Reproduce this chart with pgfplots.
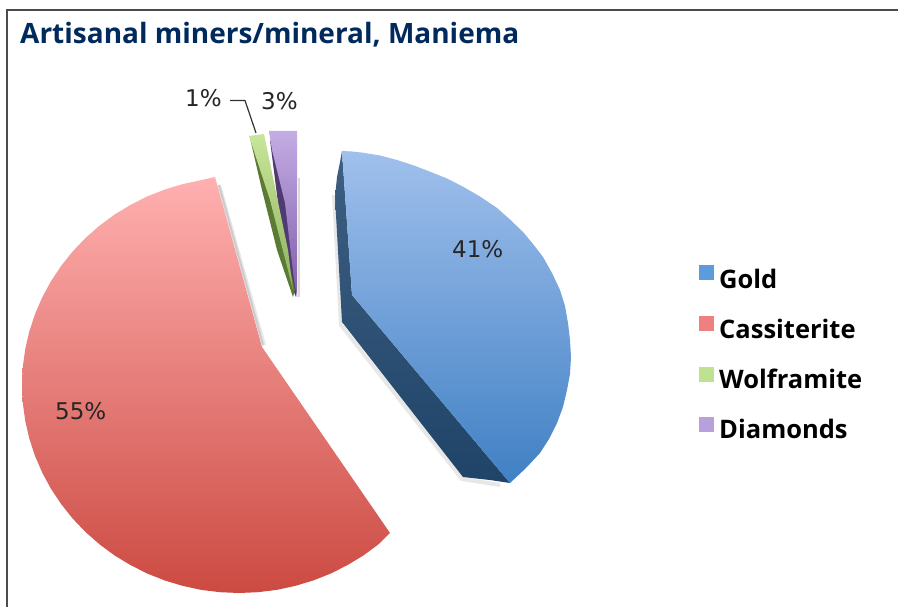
\documentclass[border=0pt]{standalone}
\usepackage{pgfplots}
\pgfplotsset{compat=1.18}
\usepackage{fontspec}
\setmainfont{DejaVu Sans}
\newfontfamily\titlefont{Open Sans}
\newfontfamily\legfont{Open Sans}
\definecolor{titleblue}{HTML}{002A5C}
\definecolor{goldsidetop}{HTML}{3E5F82}
\definecolor{goldsidebot}{HTML}{1F4468}
\definecolor{goldtop}{HTML}{A0C0EC}
\definecolor{goldbot}{HTML}{4080C4}
\definecolor{redtop}{HTML}{FFB0B0}
\definecolor{redmid}{HTML}{F08686}
\definecolor{redbot}{HTML}{CC4A42}
\definecolor{dimdark}{HTML}{4F3A72}
\definecolor{dimtop}{HTML}{C4ACE4}
\definecolor{dimbot}{HTML}{7E5CA8}
\definecolor{wolfdark}{HTML}{5B7A34}
\definecolor{wolftop}{HTML}{C8E69A}
\definecolor{wolfbot}{HTML}{8FB060}
\definecolor{leggold}{HTML}{5C9BDC}
\definecolor{legred}{HTML}{EE8080}
\definecolor{leggreen}{HTML}{BFE290}
\definecolor{legpurple}{HTML}{B8A0DC}
\begin{document}
\begin{tikzpicture}
\begin{axis}[
  scale only axis, width=898pt, height=607pt,
  xmin=0, xmax=898, ymin=0, ymax=607, y dir=reverse,
  hide axis, clip=true,
]
% page background
\addplot[fill=white, draw=none] coordinates {(0,0) (898,0) (898,607) (0,607)} --cycle;
% frame
\addplot[draw=black!70, line width=2pt] coordinates {(7,607) (7,10) (898,10)};
% soft edge shadows
\addplot[draw=black!30, line width=4pt, opacity=.3] coordinates {(219,185) (264,345)};
\addplot[draw=black!30, line width=2pt, opacity=.5] coordinates {(219,185) (263,345)};
\addplot[draw=black!30, line width=4pt, opacity=.3] coordinates {(334,195) (341,325) (462,479) (500,485)};
% Gold side
\addplot[draw=none, shade, top color=goldsidetop, bottom color=goldsidebot] coordinates {
 (342,151) (340,162) (337,177) (335,197) (342,322) (463,477) (490,480) (510,483) (352,295)} --cycle;
% Gold top
\addplot[draw=none, shade, top color=goldtop, bottom color=goldbot] coordinates {
 (342,151) (352,151.5) (363,152.7) (380,155.5) (397,160) (414,165.5) (430,171.7) (447,178.5)
 (463,186.7) (480,196.5) (497,208) (510,219.5) (523,232) (533,244) (543,257) (552,273)
 (560,290) (565,306) (568,323) (570,340) (571,357) (570,374) (567,390) (563,407) (557,423)
 (549,439) (540,453) (526,468) (510,483) (352,295)} --cycle;
% Cassiterite
\addplot[draw=none, shade, top color=redtop, middle color=redmid, bottom color=redbot] coordinates {
 (215,177) (201.3,180.1) (182.8,184.1) (164.8,189.5) (147.2,196.5) (130.5,204.9) (114.5,214.6)
 (99.5,225.7) (85.6,237.9) (72.8,251.3) (61.3,265.7) (51.1,281) (42.4,297) (35.1,313.9)
 (29.4,331.1) (25.3,348.8) (22.8,366.9) (22,385) (22.8,403.1) (25.3,421.2) (29.4,438.9)
 (35.1,456.1) (42.4,473) (51.1,489) (61.3,504.3) (72.8,518.7) (85.6,532.1) (99.5,544.3)
 (114.5,555.4) (130.5,565.1) (147.2,573.5) (164.8,580.5) (182.8,585.9) (201.3,589.9)
 (220.1,592.2) (239,593) (257.9,592.2) (276.7,589.9) (295.2,585.9) (313.2,580.5) (330.8,573.5)
 (347.5,565.1) (363.5,555.4) (378.5,544.3) (390,533) (262,347)} --cycle;
% Diamonds
\addplot[draw=black!15, line width=2pt] coordinates {(298.5,178) (298.5,297)};
\addplot[draw=none, fill=dimdark] coordinates {(270,140) (278,203) (291,285) (296,297) (296,200)} --cycle;
\addplot[draw=none, shade, top color=dimtop, bottom color=dimbot] coordinates {
 (269,131) (297,131) (297,297) (294,280) (285,203) (272,150)} --cycle;
% Wolframite
\addplot[draw=none, fill=wolfdark] coordinates {(250,138) (262,190) (277,250) (293,297) (295,290) (272,190)} --cycle;
\addplot[draw=none, shade, top color=wolftop, bottom color=wolfbot] coordinates {
 (249,136) (264,134) (288,250) (293,290) (270,200)} --cycle;
% leader
\addplot[draw=black!80, line width=1.2pt] coordinates {(230,100.5) (245,100.5) (256,133)};
% legend
\addplot[only marks, mark=square*, mark size=7pt, mark options={draw=leggold, fill=leggold}] coordinates {(706,272)};
\addplot[only marks, mark=square*, mark size=7pt, mark options={draw=legred, fill=legred}] coordinates {(706,323)};
\addplot[only marks, mark=square*, mark size=7pt, mark options={draw=leggreen, fill=leggreen}] coordinates {(706,374)};
\addplot[only marks, mark=square*, mark size=7pt, mark options={draw=legpurple, fill=legpurple}] coordinates {(706,424)};
% texts
\node[anchor=base west, inner sep=0pt, text=titleblue] at (axis cs:20,44) {\titlefont\bfseries\fontsize{28}{32}\selectfont Artisanal miners/mineral, Maniema};
\node[anchor=base west, inner sep=0pt] at (axis cs:719,288) {\legfont\bfseries\fontsize{25.5}{27}\selectfont Gold};
\node[anchor=base west, inner sep=0pt] at (axis cs:719,338) {\legfont\bfseries\fontsize{25.5}{27}\selectfont Cassiterite};
\node[anchor=base west, inner sep=0pt] at (axis cs:719,388) {\legfont\bfseries\fontsize{25.5}{27}\selectfont Wolframite};
\node[anchor=base west, inner sep=0pt] at (axis cs:719,438) {\legfont\bfseries\fontsize{25.5}{27}\selectfont Diamonds};
\node[anchor=base west, inner sep=0pt, text=black!85] at (axis cs:452,258) {\fontsize{23}{25}\selectfont 41\%};
\node[anchor=base west, inner sep=0pt, text=black!85] at (axis cs:55,419) {\fontsize{23}{25}\selectfont 55\%};
\node[anchor=base west, inner sep=0pt, text=black!85] at (axis cs:185,107) {\fontsize{23}{25}\selectfont 1\%};
\node[anchor=base west, inner sep=0pt, text=black!85] at (axis cs:261,110) {\fontsize{23}{25}\selectfont 3\%};
\end{axis}
\end{tikzpicture}
\end{document}
